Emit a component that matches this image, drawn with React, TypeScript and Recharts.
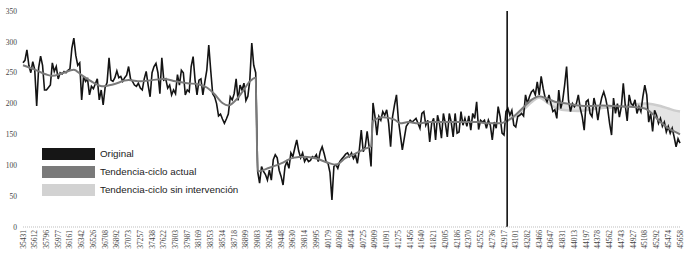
import React from 'react';
import { ComposedChart, Line, Area, XAxis, YAxis, ReferenceLine } from 'recharts';

const tickLabels = [
  '35431', '35612', '35796', '35977', '36161', '36342', '36526', '36708', '36892', '37073',
  '37257', '37438', '37622', '37803', '37987', '38169', '38353', '38534', '38718', '38899',
  '39083', '39264', '39448', '39630', '39814', '39995', '40179', '40360', '40544', '40725',
  '40909', '41091', '41275', '41456', '41640', '41821', '42005', '42186', '42370', '42552',
  '42736', '42917', '43101', '43282', '43466', '43647', '43831', '44013', '44197', '44378',
  '44562', '44743', '44927', '45108', '45292', '45474', '45658',
];

const yTicks = [0, 50, 100, 150, 200, 250, 300, 350];

const original = [
  266, 270, 287, 262, 250, 268, 255, 196, 258, 277,
  262, 222, 222, 226, 230, 266, 252, 260, 240, 250,
  248, 252, 250, 254, 256, 290, 306, 278, 262, 266,
  206, 244, 236, 240, 214, 228, 224, 232, 240, 206,
  222, 198, 226, 234, 274, 238, 236, 242, 253, 242,
  244, 236, 242, 246, 260, 240, 236, 230, 228, 233,
  225, 222, 240, 252, 230, 211, 250, 260, 265, 250,
  216, 274, 238, 240, 225, 230, 214, 222, 216, 247,
  230, 254, 250, 214, 222, 219, 260, 276, 238, 214,
  238, 240, 214, 235, 254, 295, 254, 216, 211, 200,
  180, 183, 175, 168, 175, 183, 211, 206, 216, 240,
  205, 230, 222, 233, 205, 212, 238, 298, 262, 250,
  90, 71, 98, 90, 85, 76, 92, 76, 109, 117,
  112, 92, 82, 68, 98, 106, 95, 120, 114, 128,
  141, 123, 112, 120, 106, 112, 106, 108, 114, 112,
  117, 106, 122, 130, 119, 106, 103, 88, 44, 98,
  101, 95, 106, 110, 114, 118, 120, 114, 120, 111,
  117, 103, 125, 157, 122, 130, 155, 130, 98, 201,
  179, 149, 179, 173, 187, 181, 190, 168, 130, 179,
  198, 214, 173, 149, 125, 144, 163, 168, 173, 170,
  173, 176, 168, 160, 184, 187, 165, 173, 138, 168,
  176, 141, 181, 168, 144, 184, 168, 146, 184, 170,
  146, 184, 152, 154, 187, 165, 176, 163, 180, 157,
  184, 176, 203, 158, 173, 170, 173, 160, 173, 165,
  141, 170, 160, 195, 179, 152, 149, 187, 192, 181,
  189, 165, 162, 179, 181, 184, 180, 214, 200, 211,
  219, 222, 214, 235, 214, 244, 225, 210, 203, 214,
  200, 187, 190, 176, 222, 192, 205, 230, 260, 205,
  187, 200, 195, 200, 214, 192, 179, 157, 203, 206,
  184, 179, 209, 195, 173, 195, 210, 219, 208, 192,
  168, 149, 209, 184, 200, 178, 195, 233, 197, 172,
  214, 200, 197, 206, 184, 195, 187, 211, 230, 214,
  170, 184, 155, 189, 181, 168, 176, 163, 170, 154,
  163, 152, 160, 146, 130, 143, 136,
];

const trendMonths = [
  0, 6, 12, 15, 20, 26, 30, 36, 41, 46, 54, 60, 66, 72, 78, 84, 90, 94, 98, 102,
  105, 108, 112, 116, 119, 120, 126, 132, 138, 144, 150, 156, 160, 165, 170, 175, 178, 179, 184, 190,
  193, 197, 202, 208, 214, 220, 226, 232, 238, 244, 247, 252, 256, 260, 264, 268, 272, 278, 284, 290,
  296, 302, 308, 314, 318, 322, 326, 330, 333, 336,
];
const trendActual = [
  262, 255, 247, 245, 249, 255, 246, 234, 228, 231, 238, 236, 238, 240, 236, 233, 231, 226, 215, 201,
  197, 203, 218, 236, 242, 90, 96, 103, 112, 114, 111, 104, 101, 112, 119, 127, 131, 172, 178, 174,
  168, 170, 168, 170, 170, 170, 170, 170, 168, 168, 171, 182, 194, 206, 212, 208, 203, 200, 197, 196,
  197, 196, 195, 194, 192, 183, 170, 160, 155, 150,
];

const sinMonths = [247, 252, 256, 260, 264, 268, 272, 278, 284, 290, 296, 302, 308, 314, 318, 322, 326, 330, 333, 336];
const sinIntervencion = [171, 180, 190, 202, 210, 202, 194, 189, 188, 190, 193, 194, 196, 199, 200, 199, 196, 192, 189, 187];

const INTERVENTION = 247.6;

const legendItems = [
  { label: 'Original', color: '#161616' },
  { label: 'Tendencia-ciclo actual', color: '#7a7a7a' },
  { label: 'Tendencia-ciclo sin intervención', color: '#d2d2d2' },
];

type Row = { i: number; original: number; actual: number | null; sin: number | null; band: [number, number] | null };

const data: Row[] = original.map((v, i) => ({ i, original: v, actual: null, sin: null, band: null }));
trendMonths.forEach((m, k) => {
  data[m].actual = trendActual[k];
});
sinMonths.forEach((m, k) => {
  const s = sinIntervencion[k];
  data[m].sin = s;
  const a = trendActual[trendMonths.indexOf(m)];
  data[m].band = [Math.min(a, s), Math.max(a, s)];
});

const xTicks = tickLabels.map((_, k) => k * 6);

const XTick = (props: any) => {
  const { x, y, payload } = props;
  const label = tickLabels[Math.round(payload.value / 6)];
  return (
    <text
      x={0}
      y={0}
      transform={`translate(${x},${y}) rotate(-90)`}
      textAnchor="end"
      dominantBaseline="central"
      fontSize={7.5}
      fontFamily="Liberation Serif"
      fill="#444"
    >
      {label}
    </text>
  );
};

export default function App() {
  return (
    <div style={{ position: 'absolute', left: 0, top: 0, width: 687, height: 258, background: '#fff' }}>
      <ComposedChart width={687} height={258} data={data} margin={{ top: 11, right: 7, left: 0, bottom: 0 }}>
        <XAxis
          dataKey="i"
          type="number"
          domain={[0, 336]}
          ticks={xTicks}
          interval={0}
          tick={<XTick />}
          tickLine={false}
          tickSize={0}
          tickMargin={3}
          height={31}
          axisLine={{ stroke: '#bdbdbd', strokeDasharray: '1 1' }}
        />
        <YAxis
          type="number"
          domain={[0, 350]}
          ticks={yTicks}
          interval={0}
          width={23}
          axisLine={false}
          tickLine={false}
          tickSize={4}
          tickMargin={2}
          tick={{ fontSize: 7.5, fontFamily: 'Liberation Serif', fill: '#444' }}
        />
        <Area
          dataKey="band"
          type="monotone"
          connectNulls
          stroke="none"
          fill="#e4e4e4"
          fillOpacity={1}
          isAnimationActive={false}
          dot={false}
          activeDot={false}
        />
        <Line
          dataKey="sin"
          type="monotone"
          connectNulls
          stroke="#cdcdcd"
          strokeWidth={2.5}
          dot={false}
          activeDot={false}
          isAnimationActive={false}
        />
        <Line
          dataKey="original"
          type="linear"
          stroke="#141414"
          strokeWidth={1.6}
          dot={false}
          activeDot={false}
          isAnimationActive={false}
        />
        <Line
          dataKey="actual"
          type="monotone"
          connectNulls
          stroke="#7a7a7a"
          strokeWidth={2}
          dot={false}
          activeDot={false}
          isAnimationActive={false}
        />
        <ReferenceLine x={INTERVENTION} stroke="#000" strokeWidth={1.5} />
      </ComposedChart>
      <div style={{ position: 'absolute', left: 42, top: 148, fontFamily: 'Liberation Sans', fontSize: 9.8, color: '#222' }}>
        {legendItems.map((it) => (
          <div key={it.label} style={{ display: 'flex', alignItems: 'center', height: 12, marginBottom: 6 }}>
            <div style={{ width: 53, height: 12, background: it.color }} />
            <span style={{ marginLeft: 5, whiteSpace: 'nowrap', lineHeight: '12px' }}>{it.label}</span>
          </div>
        ))}
      </div>
    </div>
  );
}
